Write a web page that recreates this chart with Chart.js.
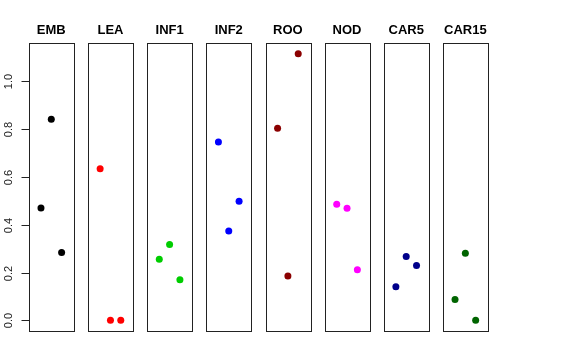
<!DOCTYPE html>
<html>
<head>
<meta charset="utf-8">
<script src="https://cdn.jsdelivr.net/npm/chart.js@4.4.0/dist/chart.umd.min.js"></script>
<style>
body { margin: 0; background: #fff; }
#wrap { position: relative; width: 576px; height: 360px; }
#wrap canvas { position: absolute; left: 0; top: 0; }
</style>
</head>
<body>
<div id="wrap"></div>
<script>
// panel names and the three points in each panel (x = 1, 2, 3)
const categories = ['EMB', 'LEA', 'INF1', 'INF2', 'ROO', 'NOD', 'CAR5', 'CAR15'];
const xPositions = [1, 2, 3];
const embValues = [0.470, 0.842, 0.284];
const leaValues = [0.634, 0.000, 0.000];
const inf1Values = [0.256, 0.317, 0.170];
const inf2Values = [0.746, 0.374, 0.498];
const rooValues = [0.804, 0.186, 1.116];
const nodValues = [0.486, 0.469, 0.212];
const car5Values = [0.141, 0.267, 0.230];
const car15Values = [0.087, 0.281, 0.000];
const panelValues = [embValues, leaValues, inf1Values, inf2Values, rooValues, nodValues, car5Values, car15Values];
const panelColors = ['#000000', '#ff0000', '#00cd00', '#0000ff', '#8b0000', '#ff00ff', '#00008b', '#006400'];
const yTicks = [0, 0.2, 0.4, 0.6, 0.8, 1.0];
const yTickLabels = ['0.0', '0.2', '0.4', '0.6', '0.8', '1.0'];

Chart.defaults.font.family = '"Liberation Sans", Arial, sans-serif';
const wrap = document.getElementById('wrap');

/*
 Box, title and (first panel only) the rotated y axis
*/
const panelFrame = {
    id: 'panelFrame',
    afterDraw(chart, args, opts) {
        const ctx = chart.ctx;
        const a = chart.chartArea;
        ctx.save();
        ctx.strokeStyle = '#222';
        ctx.lineWidth = 1;
        ctx.strokeRect(Math.round(a.left) + 0.5, Math.round(a.top) + 0.5,
                       Math.round(a.right - a.left), Math.round(a.bottom - a.top));
        ctx.fillStyle = '#000';
        ctx.font = 'bold 13px "Liberation Sans", Arial, sans-serif';
        ctx.textAlign = 'center';
        ctx.textBaseline = 'middle';
        ctx.fillText(opts.title, (a.left + a.right) / 2, 30);
        if (opts.showAxis) {
            const y = chart.scales.y;
            const x0 = Math.round(a.left) + 0.5;
            ctx.font = '11px "Liberation Sans", Arial, sans-serif';
            ctx.strokeStyle = '#222';
            yTicks.forEach((v, i) => {
                const py = Math.round(y.getPixelForValue(v)) + 0.5;
                ctx.beginPath();
                ctx.moveTo(x0 - 8, py);
                ctx.lineTo(x0, py);
                ctx.stroke();
                ctx.save();
                ctx.translate(9, py);
                ctx.rotate(-Math.PI / 2);
                ctx.fillStyle = '#222';
                ctx.fillText(yTickLabels[i], 0, 0);
                ctx.restore();
            });
        }
        ctx.restore();
    }
};

function makePanel(i) {
    const canvas = document.createElement('canvas');
    canvas.width = 576;
    canvas.height = 360;
    wrap.appendChild(canvas);
    const left = 29 + 59.15 * i;
    const width = 44.6;
    new Chart(canvas, {
        type: 'scatter',
        data: {
            datasets: [{
                data: xPositions.map((x, k) => ({ x: x, y: panelValues[i][k] })),
                backgroundColor: panelColors[i],
                borderColor: panelColors[i],
                pointRadius: 3.5,
                pointBorderWidth: 0
            }]
        },
        options: {
            responsive: false,
            animation: false,
            devicePixelRatio: 1,
            layout: {
                padding: { left: left, right: 576 - left - width, top: 43, bottom: 29 }
            },
            plugins: {
                legend: { display: false },
                tooltip: { enabled: false },
                panelFrame: { title: categories[i], showAxis: i === 0 }
            },
            scales: {
                x: { type: 'linear', min: -0.16, max: 4.16, display: false },
                y: { type: 'linear', min: -0.0446, max: 1.1606, display: false }
            }
        },
        plugins: [panelFrame]
    });
}

for (let i = 0; i < categories.length; i++) {
    makePanel(i);
}
</script>
</body>
</html>
